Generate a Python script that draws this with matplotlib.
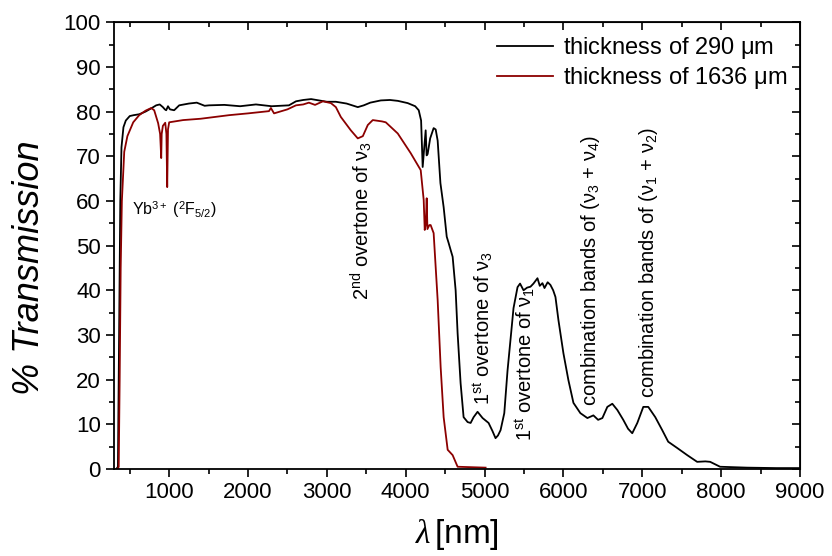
import matplotlib.pyplot as plt
from matplotlib.ticker import MultipleLocator

plt.rcParams['font.family'] = ['Liberation Sans', 'DejaVu Sans']
plt.rcParams['mathtext.fontset'] = 'custom'
plt.rcParams['mathtext.rm'] = 'Liberation Sans'
plt.rcParams['mathtext.it'] = 'Liberation Serif:italic'

# espectro de la muestra de 290 um
wl_290 = [330, 350, 365, 380, 395, 420, 450, 500, 550, 620, 700, 780, 835, 880,
          920, 945, 962, 985, 1010, 1063, 1127, 1250, 1350, 1450, 1506, 1700,
          1900, 2100, 2300, 2519, 2608, 2700, 2800, 2900, 3000, 3114, 3250, 3392,
          3468, 3550, 3684, 3800, 3900, 4025, 4120, 4165, 4195, 4215, 4235, 4253,
          4265, 4278, 4310, 4354, 4380, 4405, 4440, 4481, 4520, 4544, 4570, 4595,
          4633, 4658, 4696, 4734, 4785, 4823, 4861, 4911, 4975, 5051, 5100, 5139,
          5170, 5203, 5250, 5291, 5340, 5367, 5418, 5450, 5494, 5540, 5582, 5620,
          5671, 5700, 5734, 5760, 5800, 5835, 5870, 5899, 5937, 6000, 6063, 6127,
          6215, 6304, 6380, 6440, 6494, 6557, 6620, 6684, 6759, 6820, 6873, 6937,
          7013, 7076, 7165, 7253, 7329, 7443, 7570, 7696, 7800, 7861, 7987, 8329,
          8700, 9000]
tr_290 = [0, 0.5, 30, 60, 72, 76.5, 78, 79, 79.2, 79.4, 80, 80.8, 81.4, 81.6,
          81.0, 80.5, 80.3, 81.2, 80.5, 80.3, 81.4, 81.8, 82, 81.3, 81.4, 81.5,
          81.2, 81.6, 81.2, 81.4, 82.3, 82.6, 82.8, 82.5, 82.2, 82.2, 81.8, 81.0,
          81.4, 82.0, 82.5, 82.6, 82.4, 81.9, 81.2, 80.3, 78, 67.6, 72, 75.8,
          70.2, 70.5, 74, 76.3, 76, 73.5, 64, 58.6, 52, 50.6, 49, 47.5,
          40, 30.4, 19.2, 11.6, 10.5, 10.3, 11.6, 12.8, 11.4, 10.3, 8.5, 6.9,
          7.5, 8.7, 12.5, 22, 31, 36, 40.7, 41.5, 40, 40.6, 40.8, 41.5,
          42.7, 41, 41.6, 40.5, 41.8, 41.2, 40, 38.5, 33.3, 25.9, 19.9, 14.8,
          12.5, 11.4, 12, 11, 11.4, 13.9, 14.6, 13.2, 11, 9, 8, 10.3,
          13.9, 13.9, 11.6, 8.7, 6.1, 4.7, 3.1, 1.6, 1.7, 1.6, 0.5, 0.3,
          0.2, 0.2]

# espectro de la muestra de 1636 um
wl_1636 = [345, 360, 372, 385, 400, 430, 470, 544, 620, 700, 772, 810, 860, 885,
           893, 899, 905, 920, 950, 965, 975, 985, 1000, 1177, 1400, 1760, 2000,
           2266, 2290, 2330, 2500, 2608, 2700, 2772, 2850, 2950, 3051, 3114, 3177,
           3304, 3392, 3456, 3519, 3582, 3700, 3747, 3899, 4063, 4190, 4228, 4241,
           4255, 4266, 4275, 4300, 4316, 4354, 4405, 4443, 4481, 4532, 4595, 4658,
           5013]
tr_1636 = [0, 0.5, 20, 45, 60, 71, 74.5, 77.6, 79.2, 80.2, 80.8, 80.3, 77.4, 75,
           72, 69.6, 75, 76.8, 77.5, 75, 63.1, 76, 77.6, 78.1, 78.4, 79.2, 79.6,
           80.1, 80.8, 79.6, 80.5, 81.4, 81.6, 82, 81.5, 82.3, 81.9, 81, 78.8,
           75.8, 74, 74.5, 77, 78.1, 77.8, 77.6, 75.1, 70.7, 66.9, 60.2, 53.5,
           55, 60.6, 53.7, 54.6, 54.6, 52.8, 37.8, 22.8, 11.6, 4.3, 3.1, 0.5,
           0.3]

fig = plt.figure(figsize=(8.32, 5.56), dpi=100)
ax = fig.add_axes([0.137, 0.1565, 0.8245, 0.8035])

ax.plot(wl_290, tr_290, color='black', lw=1.3, label=r'thickness of 290 $\mathrm{\mu}$m')
ax.plot(wl_1636, tr_1636, color='#8b0000', lw=1.3, label=r'thickness of 1636 $\mathrm{\mu}$m')

ax.set_xlim(300, 9000)
ax.set_ylim(0, 100)
ax.xaxis.set_major_locator(MultipleLocator(1000))
ax.xaxis.set_minor_locator(MultipleLocator(500))
ax.yaxis.set_major_locator(MultipleLocator(10))
ax.yaxis.set_minor_locator(MultipleLocator(5))
ax.tick_params(which='major', direction='out', length=6, width=1.2, labelsize=16)
ax.tick_params(which='minor', direction='out', length=3.5, width=1.2)
for s in ax.spines.values():
    s.set_linewidth(1.3)

# ejes espejo con marcas hacia dentro
top = ax.secondary_xaxis('top')
top.xaxis.set_major_locator(MultipleLocator(1000))
top.xaxis.set_minor_locator(MultipleLocator(500))
top.tick_params(which='both', direction='in', labeltop=False, width=1.2)
top.tick_params(which='major', length=6)
top.tick_params(which='minor', length=3.5)
right = ax.secondary_yaxis('right')
right.yaxis.set_major_locator(MultipleLocator(10))
right.yaxis.set_minor_locator(MultipleLocator(5))
right.tick_params(which='both', direction='in', labelright=False, width=1.2)
right.tick_params(which='major', length=6)
right.tick_params(which='minor', length=3.5)

ax.set_xlabel(r'$\mathit{\lambda}\,$[nm]', fontsize=24)
ax.xaxis.set_label_coords(0.5, -0.108)
ax.set_ylabel('% Transmission', fontsize=26, style='italic')
ax.yaxis.set_label_coords(-0.098, 0.45)

fs = 14.5
ax.text(532, 58, r'Yb$^{3+}$ ($^{2}$F$_{5/2}$)', fontsize=11.5, va='center', ha='left')
ax.text(3430, 55.7, r'2$^{\mathrm{nd}}$ overtone of $\mathrm{\nu}_{3}$', fontsize=fs, rotation=90, ha='center', va='center')
ax.text(4987, 31.5, r'1$^{\mathrm{st}}$ overtone of $\mathrm{\nu}_{3}$', fontsize=fs, rotation=90, ha='center', va='center')
ax.text(5519, 23.5, r'1$^{\mathrm{st}}$ overtone of $\mathrm{\nu}_{1}$', fontsize=fs, rotation=90, ha='center', va='center')
ax.text(6342, 44.5, r'combination bands of ($\mathrm{\nu}_{3}$ + $\mathrm{\nu}_{4}$)', fontsize=fs, rotation=90, ha='center', va='center')
ax.text(7076, 46.3, r'combination bands of ($\mathrm{\nu}_{1}$ + $\mathrm{\nu}_{2}$)', fontsize=fs, rotation=90, ha='center', va='center')

ax.legend(loc='upper right', frameon=False, fontsize=17, handlelength=2.4,
          borderaxespad=0.15, labelspacing=0.15, handletextpad=0.4)

fig.savefig('out.png', dpi=100)
